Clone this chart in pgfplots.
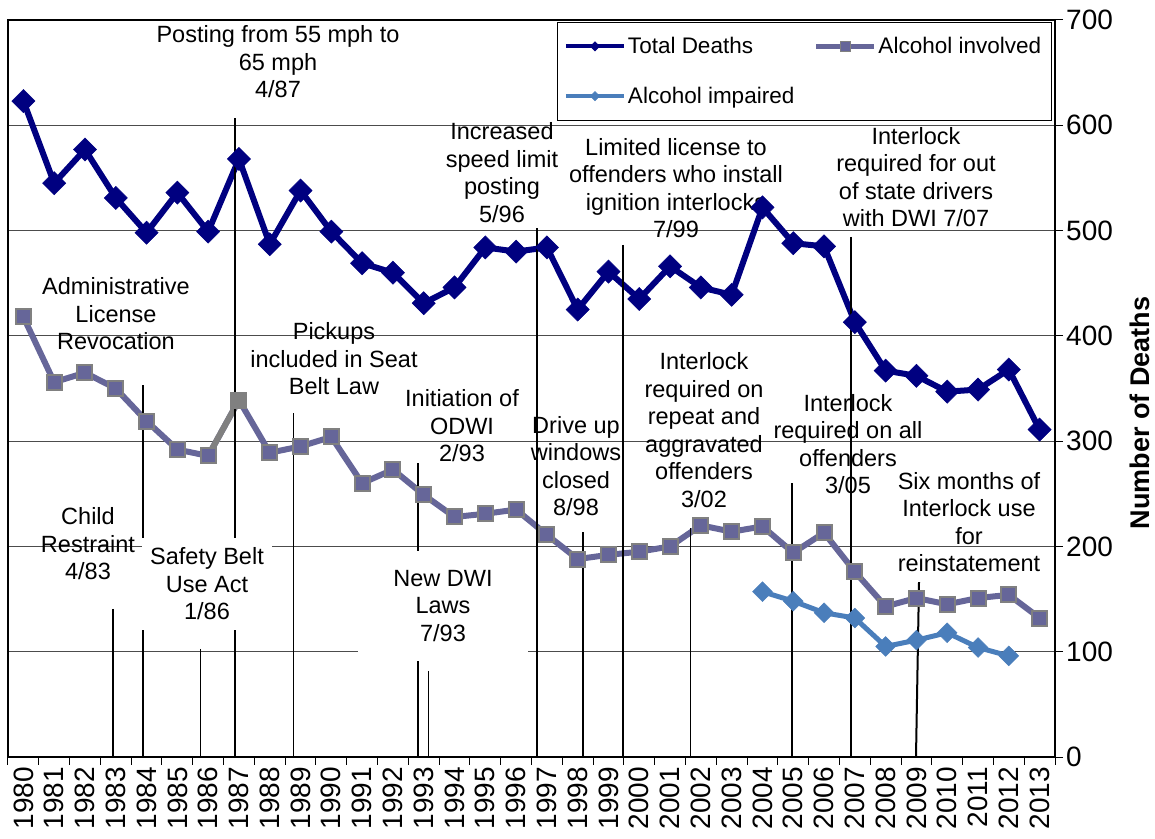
\documentclass[border=0pt]{standalone}
\usepackage{pgfplots}
\pgfplotsset{compat=1.18}
\usepackage{fontspec}
\setmainfont{Liberation Sans}
\definecolor{tot}{HTML}{000080}
\definecolor{inv}{HTML}{666699}
\definecolor{imp}{HTML}{4A7EBB}
\definecolor{mk}{HTML}{808080}
\newcommand\annfont{\fontsize{23.5}{27.5}\selectfont}
\begin{document}
\begin{tikzpicture}
\path[use as bounding box] (-8pt,-81pt) rectangle (1147pt,757pt);
\begin{axis}[
  at={(0pt,0pt)}, anchor=south west,
  scale only axis, width=1047pt, height=737pt,
  xmin=-0.5, xmax=33.5, ymin=0, ymax=700,
  clip=false,
  axis line style={line width=1.5pt},
  xtick={0,...,33},
  xticklabels={1980,1981,1982,1983,1984,1985,1986,1987,1988,1989,1990,1991,1992,1993,1994,1995,1996,1997,1998,1999,2000,2001,2002,2003,2004,2005,2006,2007,2008,2009,2010,2011,2012,2013},
  xtick style={draw=none},
  x tick label style={rotate=90, anchor=east, inner sep=2pt, font=\fontsize{28}{30}\selectfont},
  ytick={0,100,...,700},
  ytick pos=right, yticklabel pos=right,
  y tick label style={font=\fontsize{28}{30}\selectfont, inner sep=3pt},
  tick align=outside, major tick length=8pt,
  ytick style={line width=1pt, black},
  ymajorgrids, grid style={line width=1pt, black!70},
  /pgf/number format/assume math mode=true,
  legend columns=2,
  legend cell align=left,
  legend style={at={(1,1)}, anchor=north east, xshift=-3pt, yshift=-2pt,
    draw=black, line width=1pt, fill=white,
    font=\fontsize{22.5}{26}\selectfont, inner xsep=6pt, inner ysep=13pt,
    row sep=28pt, /tikz/every even column/.append style={column sep=14pt}},
  legend image code/.code={\draw[mark repeat=2,mark phase=2,#1] plot coordinates {(0pt,0pt) (29pt,0pt) (58pt,0pt)};},
]
\addlegendimage{tot, line width=4pt, mark=square*, mark size=3.3pt, mark options={rotate=45, line width=0.5pt, solid}}
\addlegendentry{\makebox[170pt][l]{Total Deaths}}
\addlegendimage{inv, line width=4.5pt, mark=square*, mark size=5pt, mark options={fill=inv, draw=mk, line width=1pt, solid}}
\addlegendentry{\makebox[165pt][l]{Alcohol involved}}
\addlegendimage{imp, line width=4pt, mark=square*, mark size=3.3pt, mark options={rotate=45, line width=0.5pt, solid}}
\addlegendentry{Alcohol impaired}

% Total deaths
\addplot[tot, line width=6pt, mark=square*, mark size=8.2pt, mark options={rotate=45, line width=0.5pt, solid}, forget plot] coordinates {
(0,623) (1,545) (2,577) (3,531) (4,498) (5,536) (6,499) (7,568) (8,487) (9,538)
(10,499) (11,469) (12,460) (13,431) (14,446) (15,484) (16,480) (17,484) (18,425) (19,461)
(20,435) (21,466) (22,446) (23,439) (24,522) (25,488) (26,485) (27,413) (28,367) (29,362)
(30,347) (31,349) (32,368) (33,311)};

% Alcohol involved
\addplot[inv, line width=6pt, mark=square*, mark size=7.5pt, mark options={fill=inv, draw=mk, line width=2pt, solid}, forget plot] coordinates {
(0,418) (1,356) (2,365) (3,350) (4,319) (5,292) (6,286) (7,339) (8,289) (9,295)
(10,304) (11,260) (12,273) (13,249) (14,228) (15,231) (16,235) (17,211) (18,188) (19,192)
(20,195) (21,200) (22,220) (23,214) (24,219) (25,194) (26,213) (27,176) (28,143) (29,151)
(30,145) (31,151) (32,154) (33,132)};
% highlighted segment 1986-1987
\addplot[mk, line width=6pt, mark=square*, mark size=7.5pt, mark options={fill=mk, draw=mk, line width=2pt, solid}, mark indices={2}, forget plot] coordinates {(6,286) (7,339)};
\addplot[only marks, mark=square*, mark size=7.5pt, mark options={fill=inv, draw=mk, line width=2pt, solid}, forget plot] coordinates {(6,286)};

% Alcohol impaired
\addplot[imp, line width=5pt, mark=square*, mark size=7pt, mark options={rotate=45, line width=0.5pt, solid}, forget plot] coordinates {
(24,157) (25,148) (26,137) (27,132) (28,105) (29,111) (30,118) (31,104) (32,96)};

% annotation texts
\node[align=center, font=\annfont] at (axis cs:8.268,660.1) {Posting from 55 mph to\\65 mph\\4/87};
\node[align=center, font=\annfont] at (axis cs:3.007,420.7) {Administrative\\License\\Revocation};
\node[align=center, font=\annfont] at (axis cs:10.086,378.0) {Pickups\\included in Seat\\Belt Law};
\node[align=center, font=\annfont] at (axis cs:2.098,202.3) {Child\\Restraint\\4/83};
\node[align=center, font=\annfont] at (axis cs:14.243,314.4) {Initiation of\\ODWI\\2/93};
\node[align=center, font=\annfont] at (axis cs:15.542,555.1) {Increased\\speed limit\\posting\\5/96};
\node[align=center, font=\annfont] at (axis cs:21.192,540.4) {Limited license to\\offenders who install\\ignition interlocks\\7/99};
\node[align=center, font=\annfont] at (axis cs:17.945,276.4) {Drive up\\windows\\closed\\8/98};
\node[align=center, font=\annfont] at (axis cs:22.102,310.6) {Interlock\\required on\\repeat and\\aggravated\\offenders\\3/02};
\node[align=center, font=\annfont] at (axis cs:26.778,297.3) {Interlock\\required on all\\offenders\\3/05};
\node[align=center, font=\annfont] at (axis cs:28.986,550.9) {Interlock\\required for out\\of state drivers\\with DWI 7/07};
\node[align=center, font=\annfont] at (axis cs:30.707,223.2) {Six months of\\Interlock use\\for\\reinstatement};

% event lines
\draw[line width=1.5pt] (axis cs:2.910,140.6) -- (axis cs:2.910,0);
\draw[line width=1.5pt] (axis cs:3.884,353.3) -- (axis cs:3.884,0);
\draw[line width=1.5pt] (axis cs:5.751,102.6) -- (axis cs:5.751,0);
\draw[line width=1.5pt] (axis cs:6.872,606.9) -- (axis cs:6.872,0);
\draw[line width=1.5pt] (axis cs:8.771,326.7) -- (axis cs:8.771,0);
\draw[line width=1.5pt] (axis cs:12.814,279.2) -- (axis cs:12.814,0);
\draw[line width=1.5pt] (axis cs:13.158,81.7) -- (axis cs:13.158,0);
\draw[line width=1.5pt] (axis cs:16.679,502.4) -- (axis cs:16.679,0);
\draw[line width=1.5pt] (axis cs:18.172,213.7) -- (axis cs:18.172,0);
\draw[line width=1.5pt] (axis cs:19.471,486.3) -- (axis cs:19.471,0);
\draw[line width=1.5pt] (axis cs:21.663,217.5) -- (axis cs:21.663,0);
\draw[line width=1.5pt] (axis cs:24.96,260.2) -- (axis cs:24.96,0);
\draw[line width=2.5pt] (axis cs:26.875,493.9) -- (axis cs:26.875,0);
\draw[line width=2pt] (axis cs:29.084,166.2) -- (axis cs:28.986,0);

% white text boxes
\node[fill=white, minimum width=130pt, minimum height=92pt, inner sep=0pt, align=center, font=\annfont] at (axis cs:5.962,164.3) {Safety Belt\\Use Act\\1/86};
\node[fill=white, minimum width=170pt, minimum height=110pt, inner sep=0pt, align=center, font=\annfont] at (axis cs:13.626,143.5) {New DWI\\Laws\\7/93};

% category boundary ticks
\pgfplotsinvokeforeach{-0.5,0.5,...,33.5}{\draw[line width=1pt] (axis cs:#1,0) -- ++(0pt,-8pt);}
\end{axis}
\node[rotate=90, font=\bfseries\fontsize{27}{30}\selectfont] at (1132pt,344pt) {Number of Deaths};
\end{tikzpicture}
\end{document}
